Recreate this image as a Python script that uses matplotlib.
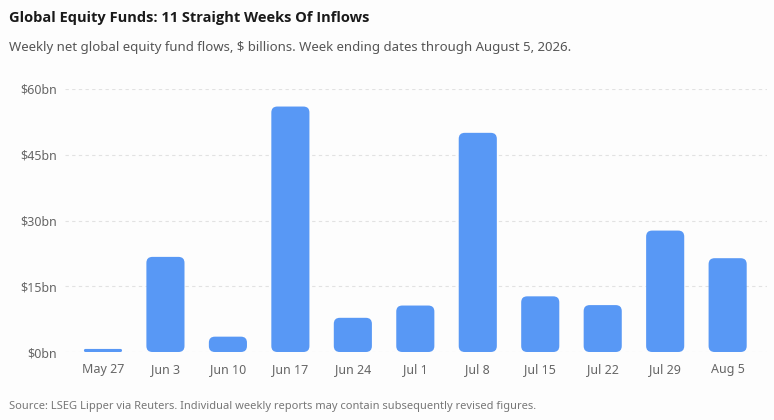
import matplotlib
matplotlib.use("Agg")
import matplotlib.pyplot as plt
from matplotlib.patches import FancyBboxPatch

plt.rcParams['font.family'] = ['Noto Sans', 'DejaVu Sans']

# Weekly net global equity fund flows ($ billions)
weeks = ["May 27", "Jun 3", "Jun 10", "Jun 17", "Jun 24", "Jul 1",
         "Jul 8", "Jul 15", "Jul 22", "Jul 29", "Aug 5"]
flows = [0.7, 21.7, 3.5, 56.0, 7.8, 10.6, 50.0, 12.7, 10.7, 27.7, 21.4]
yticks = [0, 15, 30, 45, 60]
ylabels = ["$0bn", "$15bn", "$30bn", "$45bn", "$60bn"]

bar_color = "#5898F5"
bg = "#FDFDFD"

fig = plt.figure(figsize=(7.74, 4.2), dpi=100, facecolor=bg)
ax = fig.add_axes([65 / 774, 68 / 420, 702 / 774, 263 / 420], facecolor=bg)

x = list(range(len(weeks)))
bars = ax.bar(x, flows, width=0.61, color=bar_color)

ax.set_xlim(-0.608, 10.63)
ax.set_ylim(0, 60)

# swap plain bars for rounded ones, same geometry
aspect = 14.2
for b in bars:
    bx, by = b.get_x(), b.get_y()
    w, h = b.get_width(), b.get_height()
    r = min(0.096, h / aspect / 2)
    p = FancyBboxPatch((bx, by), w, h,
                       boxstyle=f"round,pad=0,rounding_size={r}",
                       mutation_aspect=aspect,
                       facecolor=bar_color, edgecolor="none", zorder=3)
    ax.add_patch(p)
    b.set_visible(False)

ax.set_yticks(yticks)
ax.set_yticklabels(ylabels)
ax.set_xticks(x)
ax.set_xticklabels(weeks)
ax.tick_params(axis='both', length=0, labelsize=9, colors="#666666")
ax.tick_params(axis='y', pad=6)
ax.tick_params(axis='x', pad=8)

ax.grid(axis='y', color="#E2E2E2", linestyle=(0, (3, 3)), linewidth=0.8, zorder=0)
ax.set_axisbelow(True)
for s in ax.spines.values():
    s.set_visible(False)

fig.text(9 / 774, 1 - 18 / 420, "Global Equity Funds: 11 Straight Weeks Of Inflows",
         fontsize=10.5, fontweight='bold', family=['Open Sans', 'DejaVu Sans'],
         color="#1A1A1A", va='center')
fig.text(9 / 774, 1 - 47 / 420,
         "Weekly net global equity fund flows, $ billions. Week ending dates through August 5, 2026.",
         fontsize=9.5, color="#555555", va='center')
fig.text(9 / 774, 1 - 406 / 420,
         "Source: LSEG Lipper via Reuters. Individual weekly reports may contain subsequently revised figures.",
         fontsize=8, color="#777777", va='center')

fig.savefig("out.png", dpi=100, facecolor=bg)
